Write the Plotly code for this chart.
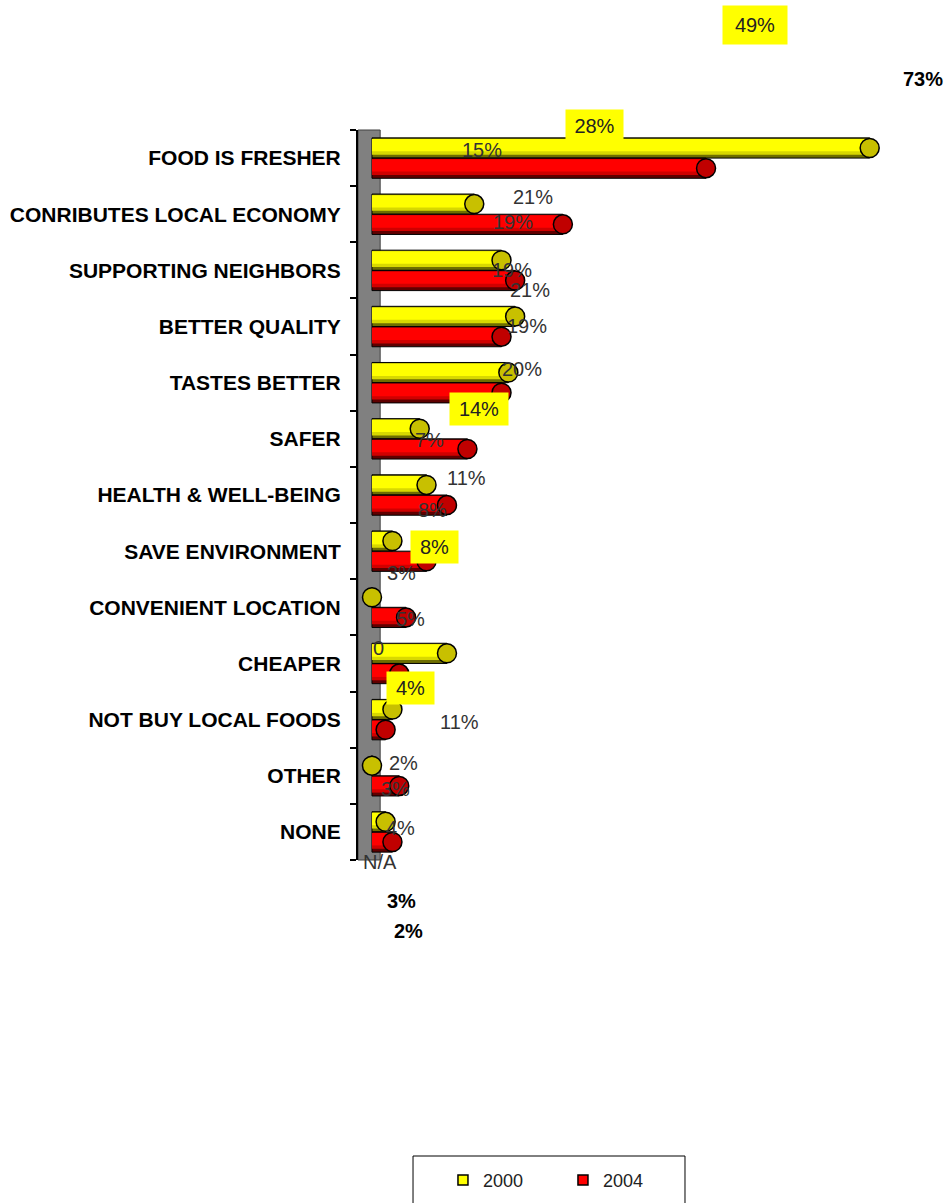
import plotly.graph_objects as go

# Reasons for buying local food, share of respondents (%)
categories = [
    "FOOD IS FRESHER", "CONRIBUTES LOCAL ECONOMY", "SUPPORTING NEIGHBORS",
    "BETTER QUALITY", "TASTES BETTER", "SAFER", "HEALTH & WELL-BEING",
    "SAVE ENVIRONMENT", "CONVENIENT LOCATION", "CHEAPER",
    "NOT BUY LOCAL FOODS", "OTHER", "NONE",
]
pct_2000 = [73, 15, 19, 21, 20, 7, 8, 3, 0, 11, 3, None, 2]
pct_2004 = [49, 28, 21, 19, 19, 14, 11, 8, 5, 4, 2, 4, 3]
series_names = ["2000", "2004"]

idx = list(range(len(categories)))
N = len(categories)
BAR_W = 0.36

# colours per series: bright face, mid tone, dark underside, end cap
palette = {
    "2000": dict(bright="#FFFF00", mid="#D8D800", dark="#6E6E00", cap="#C8C000"),
    "2004": dict(bright="#FF0000", mid="#D00000", dark="#600000", cap="#C00000"),
}

fig = go.Figure()


def add_cylinders(name, values, top_offset):
    c = palette[name]
    vals = [v if v is not None else 0 for v in values]
    centre = [i + top_offset + BAR_W / 2 for i in idx]
    # shaded body: dark underside, mid tone, bright face
    layers = [
        (c["dark"], 0.0, BAR_W, 1),
        (c["mid"], 0.02, BAR_W - 0.08, 0),
        (c["bright"], 0.02, BAR_W - 0.14, 0),
    ]
    for colour, inset, width, lw in layers:
        fig.add_trace(go.Bar(
            x=vals, y=idx, orientation="h", base=0,
            offset=top_offset + inset, width=width,
            marker=dict(color=colour, line=dict(color="black", width=lw)),
            showlegend=False, hoverinfo="skip",
        ))
    # end cap of each tube
    fig.add_trace(go.Scatter(
        x=vals, y=centre, mode="markers", showlegend=False, hoverinfo="skip",
        marker=dict(symbol="circle", size=19, color=c["cap"],
                    line=dict(color="black", width=1.5)),
    ))


add_cylinders("2000", pct_2000, -BAR_W)
add_cylinders("2004", pct_2004, 0.0)

# legend entries
for name in series_names:
    fig.add_trace(go.Scatter(
        x=[None], y=[None], mode="markers", name=name,
        marker=dict(symbol="square", size=10, color=palette[name]["bright"],
                    line=dict(color="black", width=1.5)),
    ))

# value labels: (series, category index, x in %, y in category units, style,
#                highlight box width in px or None)
label_spots = [
    ("2004", 0, 56.2, -2.37, "bigbox", 48),
    ("2000", 0, 80.8, -1.41, "bold", None),
    ("2004", 1, 32.6, -0.57, "box", 47),
    ("2000", 1, 16.1, -0.14, "plain", None),
    ("2004", 2, 23.6, 0.69, "plain", None),
    ("2000", 2, 20.7, 1.14, "plain", None),
    ("2004", 3, 20.5, 1.99, "plain", None),
    ("2000", 3, 23.2, 2.35, "plain", None),
    ("2004", 4, 22.7, 2.99, "plain", None),
    ("2000", 4, 22.0, 3.76, "plain", None),
    ("2004", 5, 15.7, 4.47, "box", 48),
    ("2000", 5, 8.5, 5.02, "plain", None),
    ("2004", 6, 13.9, 5.70, "plain", None),
    ("2000", 6, 8.9, 6.27, "plain", None),
    ("2004", 7, 9.2, 6.93, "box", 37),
    ("2000", 7, 4.4, 7.39, "plain", None),
    ("2004", 8, 5.6, 8.21, "plain", None),
    ("2000", 8, 1.0, 8.72, "plain", None),
    ("2004", 9, 5.7, 9.44, "box", 37),
    ("2000", 9, 12.9, 10.04, "plain", None),
    ("2004", 10, 4.55, 10.77, "plain", None),
    ("2000", 10, 3.5, 11.24, "plain", None),
    ("2004", 11, 4.25, 11.93, "plain", None),
    ("2000", 11, 1.2, 12.54, "plain", None),
    ("2004", 12, 4.4, 13.23, "bold", None),
    ("2000", 12, 5.3, 13.77, "bold", None),
]
values_by_series = {"2000": pct_2000, "2004": pct_2004}


def fmt(v):
    if v is None:
        return "N/A"
    return "0" if v == 0 else f"{v}%"


def cat_to_paper(y):
    # category units (0 at top row) -> paper fraction of the plot height
    return (N - 0.5 - y) / N


FONT = "Liberation Sans, Arial"
annotations = []
for name, i, lx, ly, style, box_w in label_spots:
    txt = fmt(values_by_series[name][i])
    a = dict(x=lx, y=cat_to_paper(ly), xref="x", yref="paper", text=txt,
             showarrow=False, xanchor="center", yanchor="middle")
    if style in ("box", "bigbox"):
        a.update(bgcolor="#FFFF00", width=box_w,
                 borderpad=8 if style == "bigbox" else 5,
                 font=dict(family=FONT, size=20, color="#222"))
    elif style == "bold":
        a.update(font=dict(family=FONT, size=20, color="black", weight="bold"))
    else:
        a.update(font=dict(family=FONT, size=20, color="#333"))
    annotations.append(a)

# plot area geometry
X_MIN, X_MAX = -2.05, 83.9

shapes = [
    # grey back wall behind the tubes
    dict(type="rect", xref="x", yref="paper", x0=X_MIN, x1=1.2, y0=0, y1=1,
         fillcolor="#808080", line=dict(color="#404040", width=1), layer="below"),
    # legend frame
    dict(type="rect", xref="paper", yref="paper", x0=0.0939, x1=0.558,
         y0=-0.48, y1=-0.4055, line=dict(color="black", width=1),
         fillcolor="rgba(0,0,0,0)"),
]

fig.update_layout(
    width=944, height=1203,
    margin=dict(l=358, r=0, t=130, b=343),
    paper_bgcolor="white", plot_bgcolor="white",
    barmode="overlay",
    showlegend=True,
    legend=dict(orientation="h", x=0.145, y=-0.4135, xanchor="left",
                yanchor="top", bgcolor="rgba(0,0,0,0)", borderwidth=0,
                entrywidth=75, itemwidth=30,
                font=dict(family=FONT, size=18, color="#222")),
    xaxis=dict(range=[X_MIN, X_MAX], visible=False, showgrid=False, zeroline=False),
    yaxis=dict(
        range=[N - 0.5, -0.5],
        tickmode="array", tickvals=idx, ticktext=categories,
        ticks="", showgrid=False, zeroline=False,
        showline=True, linecolor="black", linewidth=2,
        ticklabelstandoff=11,
        tickfont=dict(family=FONT, size=21, color="black", weight="bold"),
        minor=dict(tickmode="array",
                   tickvals=[i - 0.5 for i in idx] + [N - 0.5],
                   ticks="outside", ticklen=6, tickwidth=2, tickcolor="black",
                   showgrid=False),
    ),
    annotations=annotations,
    shapes=shapes,
)

fig.write_html("out.html")
